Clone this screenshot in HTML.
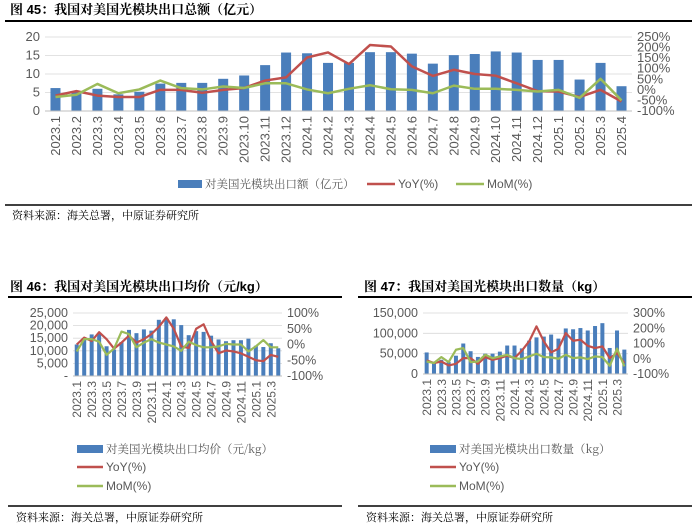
<!DOCTYPE html>
<html><head><meta charset="utf-8">
<style>
body{margin:0;background:#fff;}
svg{display:block;font-family:"Liberation Sans","Noto Sans CJK SC",sans-serif;}
.t{font-family:"Liberation Sans","Noto Serif CJK SC",serif;font-weight:bold;font-size:13px;fill:#000}
.src{font-family:"Noto Serif CJK SC",serif;font-size:11px;fill:#000}
.ax{font-size:13px;fill:#595959}
.ax2{font-size:12.5px;fill:#595959}
.ax2x{font-size:12px;fill:#595959}
.lg{font-size:12px;fill:#595959}
.lgc{font-family:"Noto Serif CJK SC",serif;font-size:11.5px;fill:#595959}
</style></head>
<body>
<svg id="s" width="700" height="531" viewBox="0 0 700 531">
<text class="t" x="10" y="14">图 45：我国对美国光模块出口总额（亿元）</text>
<line x1="5" y1="21" x2="692" y2="21" stroke="#000" stroke-width="2"/>
<g id="c45"></g>
<line x1="5" y1="205" x2="692" y2="205" stroke="#000" stroke-width="1.5"/>
<text class="src" x="12" y="219">资料来源：海关总署，中原证券研究所</text>

<text class="t" x="10" y="291">图 46：我国对美国光模块出口均价（元/kg）</text>
<line x1="8" y1="297" x2="342" y2="297" stroke="#000" stroke-width="2"/>
<g id="c46"></g>
<line x1="8" y1="506" x2="342" y2="506" stroke="#000" stroke-width="1.5"/>
<text class="src" x="16" y="521">资料来源：海关总署，中原证券研究所</text>

<text class="t" x="364" y="291">图 47：我国对美国光模块出口数量（kg）</text>
<line x1="358" y1="297" x2="692" y2="297" stroke="#000" stroke-width="2"/>
<g id="c47"></g>
<line x1="358" y1="506" x2="692" y2="506" stroke="#000" stroke-width="1.5"/>
<text class="src" x="366" y="521">资料来源：海关总署，中原证券研究所</text>
</svg>
<script>
const months = ["2023.1","2023.2","2023.3","2023.4","2023.5","2023.6","2023.7","2023.8","2023.9","2023.10","2023.11","2023.12","2024.1","2024.2","2024.3","2024.4","2024.5","2024.6","2024.7","2024.8","2024.9","2024.10","2024.11","2024.12","2025.1","2025.2","2025.3","2025.4"];
const value45 = [6.2,5.0,6.0,4.5,5.2,7.4,7.6,7.6,8.7,9.6,12.4,15.8,15.6,13.0,13.0,15.9,15.9,15.5,12.8,15.1,15.4,16.1,15.8,13.8,13.8,8.5,13.0,6.7];
const yoy45 = [-27,-6,-27,-34,-34,0,0,-14,0,9,44,59,153,177,122,212,205,111,66,95,75,67,31,-6,-8,-34,0,-55];
const mom45 = [-34,-23,28,-16,2,44,8,2,16,9,31,31,2,-16,5,22,3,0,-16,20,5,5,0,-8,0,-38,52,-50];
const leftTicks45 = ["0","5","10","15","20"];
const rightTicks45 = ["-100%","-50%","0%","50%","100%","150%","200%","250%"];

const value46 = [12500,14500,16500,16800,11800,10500,13500,18300,17000,18500,18000,22300,23000,22500,20200,16200,17800,17500,16000,14500,13800,14200,14200,14800,12000,11500,13000,11000];
const yoy46 = [0,22,11,39,17,-13,6,28,6,17,33,56,86,50,-6,-11,50,64,11,-28,-19,-22,-28,-39,-50,-53,-33,-39];
const mom46 = [-22,17,17,9,-33,-13,41,33,-9,6,17,6,0,-6,-20,9,-2,-9,-9,-6,2,0,0,-22,-6,14,-9,-9];
const leftTicks46 = ["-","5,000","10,000","15,000","20,000","25,000"];
const rightTicks46 = ["-100%","-50%","0%","50%","100%"];

const value47 = [53000,28000,35000,30000,45000,75000,56000,42000,50000,50000,55000,70000,70000,63000,82000,90000,92000,97000,87000,112000,110000,113000,107000,118000,125000,64000,107000,60000];
const yoy47 = [-11,-28,-18,-44,-33,4,4,-33,11,-7,4,20,4,53,114,212,114,42,66,168,118,125,85,70,81,4,37,-28];
const mom47 = [-18,-28,11,-22,59,70,-22,-18,26,4,15,26,4,-2,15,33,11,9,0,26,4,9,-2,15,11,-46,66,-50];
const leftTicks47 = ["0","50,000","100,000","150,000"];
const rightTicks47 = ["-100%","0%","100%","200%","300%"];

const NS="http://www.w3.org/2000/svg";
function mk(parent,tag,attrs,txt){const e=document.createElementNS(NS,tag);for(const k in attrs)e.setAttribute(k,attrs[k]);if(txt!==undefined)e.textContent=txt;parent.appendChild(e);return e;}

function draw(g,cfg,vals,yoy,mom,lt,rt){
  const n=vals.length, step=(cfg.x1-cfg.x0)/n;
  const xc=i=>cfg.x0+step*(i+0.5);
  const yl=v=>cfg.yb-(v-cfg.lmin)/(cfg.lmax-cfg.lmin)*(cfg.yb-cfg.yt);
  const yr=v=>cfg.yb-(v-cfg.rmin)/(cfg.rmax-cfg.rmin)*(cfg.yb-cfg.yt);
  lt.forEach((t,i)=>{
    const y=cfg.yb-i*(cfg.yb-cfg.yt)/(lt.length-1);
    const gl=mk(g,'line',{x1:cfg.x0,x2:cfg.x1,y1:y,y2:y,stroke:'#d9d9d9','stroke-width':0.8});
    
    
    const tx=mk(g,'text',{x:cfg.x0-5,y:y+4,'text-anchor':'end',class:cfg.axc},t);
    
    
  });
  rt.forEach((t,i)=>{
    const y=cfg.yb-i*(cfg.yb-cfg.yt)/(rt.length-1);
    const tx=mk(g,'text',{x:cfg.x1+5,y:y+4,class:cfg.axc},t);
    
    
  });
  vals.forEach((v,i)=>{
    const r=mk(g,'rect',{x:xc(i)-cfg.bw/2,y:yl(v),width:cfg.bw,height:cfg.yb-yl(v),fill:'#4a7ebb'});
    
    
  });
  const ax=mk(g,'line',{x1:cfg.x0,x2:cfg.x1,y1:cfg.yb,y2:cfg.yb,stroke:'#bfbfbf'});
  
  
  const p1=mk(g,'polyline',{points:yoy.map((v,i)=>xc(i)+','+yr(v)).join(' '),fill:'none',stroke:'#c0504d','stroke-width':cfg.lw,'stroke-linejoin':'round'});
  
  
  const p2=mk(g,'polyline',{points:mom.map((v,i)=>xc(i)+','+yr(v)).join(' '),fill:'none',stroke:'#9bbb59','stroke-width':cfg.lw,'stroke-linejoin':'round'});
  
  
  months.forEach((m,i)=>{
    if(i%cfg.every) return;
    const x=xc(i)+4.5, y=cfg.yb+5;
    const tx=mk(g,'text',{x:x,y:y,'text-anchor':'end',class:cfg.axx,transform:'rotate(-90 '+x+' '+y+')'},m);
    
    
  });
}
draw(document.getElementById('c45'),{x0:45,x1:632,yt:37,yb:111,lmin:0,lmax:20,rmin:-100,rmax:250,bw:10,lw:2.5,every:1,axc:'ax',axx:'ax'},value45,yoy45,mom45,leftTicks45,rightTicks45);
draw(document.getElementById('c46'),{x0:73,x1:282,yt:313,yb:376,lmin:0,lmax:25000,rmin:-100,rmax:100,bw:4,lw:2.2,every:2,axc:'ax2',axx:'ax2x'},value46,yoy46,mom46,leftTicks46,rightTicks46);
draw(document.getElementById('c47'),{x0:423,x1:628,yt:313,yb:374,lmin:0,lmax:150000,rmin:-100,rmax:300,bw:4,lw:2.2,every:2,axc:'ax2',axx:'ax2x'},value47,yoy47,mom47,leftTicks47,rightTicks47);

function legend(g,items){
  items.forEach(it=>{
    let e;
    if(it.type==='bar') e=mk(g,'rect',{x:it.x,y:it.y-4,width:it.w,height:8,fill:'#4a7ebb'});
    else e=mk(g,'line',{x1:it.x,x2:it.x+it.w,y1:it.y,y2:it.y,stroke:it.c,'stroke-width':2.5});
    
    
    const t=mk(g,'text',{x:it.x+it.w+3,y:it.y+4,class:it.cls},it.label);
    
    
  });
}
legend(document.getElementById('c45'),[
 {type:'bar',x:178,y:184,w:24,label:'对美国光模块出口额（亿元）',cls:'lgc'},
 {type:'line',x:367,y:184,w:28,c:'#c0504d',label:'YoY(%)',cls:'lg'},
 {type:'line',x:456,y:184,w:28,c:'#9bbb59',label:'MoM(%)',cls:'lg'}]);
legend(document.getElementById('c46'),[
 {type:'bar',x:77,y:449,w:26,label:'对美国光模块出口均价（元/kg）',cls:'lgc'},
 {type:'line',x:77,y:467,w:26,c:'#c0504d',label:'YoY(%)',cls:'lg'},
 {type:'line',x:77,y:486,w:26,c:'#9bbb59',label:'MoM(%)',cls:'lg'}]);
legend(document.getElementById('c47'),[
 {type:'bar',x:430,y:449,w:26,label:'对美国光模块出口数量（kg）',cls:'lgc'},
 {type:'line',x:430,y:467,w:26,c:'#c0504d',label:'YoY(%)',cls:'lg'},
 {type:'line',x:430,y:486,w:26,c:'#9bbb59',label:'MoM(%)',cls:'lg'}]);
</script>
</body></html>
